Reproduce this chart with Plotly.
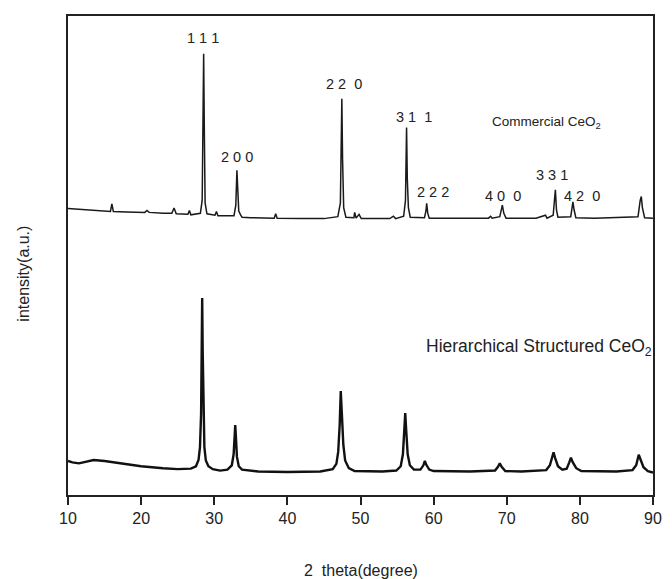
import plotly.graph_objects as go

# Commercial CeO2 pattern: (2theta, intensity a.u.)
commercial_2theta = [10.0, 12.0, 14.0, 15.8, 16.0, 16.2, 18.0, 20.5, 20.8, 21.1, 23.0, 24.2, 24.5, 24.8,
                     26.4, 26.6, 26.8, 28.1, 28.35, 28.45, 28.55, 28.65, 28.75, 29.0, 30.1, 30.3, 30.5,
                     32.7, 32.95, 33.1, 33.2, 33.35, 33.6, 33.8, 35.0, 38.2, 38.4, 38.6, 42.0, 45.0,
                     46.9, 47.25, 47.35, 47.45, 47.55, 47.7, 48.0, 49.1, 49.2, 49.4, 49.8, 50.1, 54.0,
                     54.5, 54.8, 55.9, 56.15, 56.3, 56.4, 56.55, 56.8, 58.75, 58.95, 59.05, 59.2, 59.4,
                     62.0, 67.5, 67.8, 68.0, 69.05, 69.3, 69.4, 69.6, 69.9, 74.0, 75.3, 75.5,
                     76.35, 76.55, 76.65, 76.8, 77.0, 78.75, 78.95, 79.05, 79.2, 79.45, 82.0,
                     87.95, 88.25, 88.4, 88.55, 88.85, 90.0]
commercial_int = [59.8, 59.6, 59.4, 59.2, 60.8, 59.2, 59.1, 59.0, 59.4, 59.0, 58.8, 58.8, 59.9, 58.7,
                  58.6, 59.4, 58.5, 58.8, 61.5, 75.0, 92.1, 75.0, 61.0, 58.7, 58.4, 59.2, 58.3,
                  58.3, 60.5, 67.8, 63.0, 59.3, 58.5, 58.0, 57.9, 57.8, 58.7, 57.8, 57.7, 57.7,
                  58.1, 61.0, 72.0, 82.7, 70.0, 60.0, 58.0, 57.9, 59.0, 57.8, 58.6, 57.7, 57.7,
                  58.2, 57.7, 58.2, 61.5, 76.7, 66.0, 60.0, 58.0, 57.9, 59.3, 60.9, 58.8, 57.8,
                  57.8, 57.8, 58.2, 57.8, 58.1, 60.0, 60.5, 58.8, 57.8, 57.8, 58.4, 57.8,
                  58.4, 62.0, 63.7, 59.5, 58.0, 58.1, 60.5, 61.2, 59.6, 57.9, 57.8,
                  58.1, 61.5, 62.3, 60.0, 57.9, 57.8]

# Hierarchical structured CeO2 pattern
hier_2theta = [10.0, 10.6, 11.5, 12.5, 13.5, 15.0, 17.0, 20.0, 23.0, 25.0, 26.8, 27.5, 27.85, 28.05,
               28.2, 28.28, 28.35, 28.42, 28.5, 28.65, 28.85, 29.2, 29.8, 30.8, 31.8, 32.4, 32.65,
               32.8, 32.87, 32.95, 33.1, 33.35, 33.8, 36.0, 40.0, 44.5, 46.2, 46.7, 46.95, 47.15,
               47.3, 47.45, 47.65, 47.9, 48.4, 49.2, 53.0, 54.9, 55.5, 55.8, 56.0, 56.12, 56.25,
               56.45, 56.75, 57.3, 58.2, 58.6, 58.8, 59.0, 59.4, 60.0, 65.0, 68.4, 68.8, 69.05,
               69.3, 69.8, 72.0, 75.4, 75.9, 76.2, 76.4, 76.6, 77.0, 77.6, 78.2, 78.55, 78.78, 79.0,
               79.5, 80.2, 85.0, 87.2, 87.7, 88.05, 88.3, 88.7, 89.3, 90.0]
hier_int = [7.1, 6.8, 6.6, 7.0, 7.3, 7.1, 6.6, 6.0, 5.6, 5.4, 5.5, 6.0, 7.3, 10.0,
            17.0, 28.0, 41.1, 30.0, 18.0, 10.0, 7.2, 6.0, 5.4, 5.1, 5.3, 6.2, 8.5,
            12.5, 14.6, 12.5, 8.0, 6.0, 5.3, 4.9, 4.8, 4.9, 5.4, 6.5, 9.0, 14.5,
            21.7, 17.0, 10.5, 7.2, 5.6, 5.0, 4.9, 5.1, 6.0, 8.5, 13.5, 17.1, 13.5,
            8.5, 6.2, 5.3, 5.3, 6.2, 7.1, 6.3, 5.3, 5.0, 4.9, 5.1, 5.9, 6.6,
            5.9, 5.0, 4.9, 5.2, 6.2, 7.8, 8.9, 7.8, 6.0, 5.3, 5.5, 6.8, 7.8, 6.9,
            5.6, 5.0, 4.9, 5.2, 6.2, 8.4, 7.2, 5.8, 5.0, 4.7]

# Miller-index labels (text, 2theta, intensity)
hkl_labels = ["1 1 1", "2 0 0", "2 2\u00a0\u00a00", "3 1\u00a0\u00a01", "2 2 2", "4 0\u00a0\u00a00", "3 3 1", "4 2\u00a0\u00a00"]
hkl_x = [28.51, 33.13, 47.68, 57.38, 59.85, 69.5, 76.24, 80.28]
hkl_y = [95.5, 70.6, 85.9, 79.0, 63.3, 62.5, 66.8, 62.5]

x_ticks = [10, 20, 30, 40, 50, 60, 70, 80, 90]

FONT = "Liberation Sans, Arial, sans-serif"

fig = go.Figure()
fig.add_trace(go.Scatter(x=commercial_2theta, y=commercial_int, mode="lines",
                         line=dict(color="#1a1a1a", width=1.5), showlegend=False))
fig.add_trace(go.Scatter(x=hier_2theta, y=hier_int, mode="lines",
                         line=dict(color="#111111", width=2.4), showlegend=False))

annotations = []
for t, xx, yy in zip(hkl_labels, hkl_x, hkl_y):
    annotations.append(dict(x=xx, y=yy, xref="x", yref="y", text=t, showarrow=False,
                            xanchor="center", yanchor="middle",
                            font=dict(family=FONT, size=14.5, color="#222222")))
annotations.append(dict(x=67.7, y=77.7, xref="x", yref="y", text="Commercial CeO<sub>2</sub>",
                        showarrow=False, xanchor="left", yanchor="middle",
                        font=dict(family=FONT, size=13.5, color="#222222")))
annotations.append(dict(x=58.73, y=30.8, xref="x", yref="y", text="Hierarchical Structured CeO<sub>2</sub>",
                        showarrow=False, xanchor="left", yanchor="middle",
                        font=dict(family=FONT, size=17.5, color="#222222")))
annotations.append(dict(x=0.5, y=-0.1566, xref="paper", yref="paper", text="2\u00a0\u00a0theta(degree)",
                        showarrow=False, xanchor="center", yanchor="middle",
                        font=dict(family=FONT, size=16, color="#222222")))
annotations.append(dict(x=-0.0758, y=0.4614, xref="paper", yref="paper", text="intensity(a.u.)",
                        showarrow=False, xanchor="center", yanchor="middle", textangle=-90,
                        font=dict(family=FONT, size=16, color="#222222")))

fig.update_layout(
    width=672, height=579,
    margin=dict(l=68, r=10, t=16, b=84),
    paper_bgcolor="white", plot_bgcolor="white",
    annotations=annotations,
    xaxis=dict(range=[10, 90], tickvals=x_ticks, ticks="outside", ticklen=8, tickwidth=1.5,
               tickcolor="#222222", showline=True, linecolor="#222222", linewidth=1.8, mirror=True,
               showgrid=False, zeroline=False,
               tickfont=dict(family=FONT, size=16, color="#222222")),
    yaxis=dict(range=[0, 100], showticklabels=False, ticks="", showline=True, linecolor="#222222",
               linewidth=1.8, mirror=True, showgrid=False, zeroline=False),
)

fig.write_html("out.html")
